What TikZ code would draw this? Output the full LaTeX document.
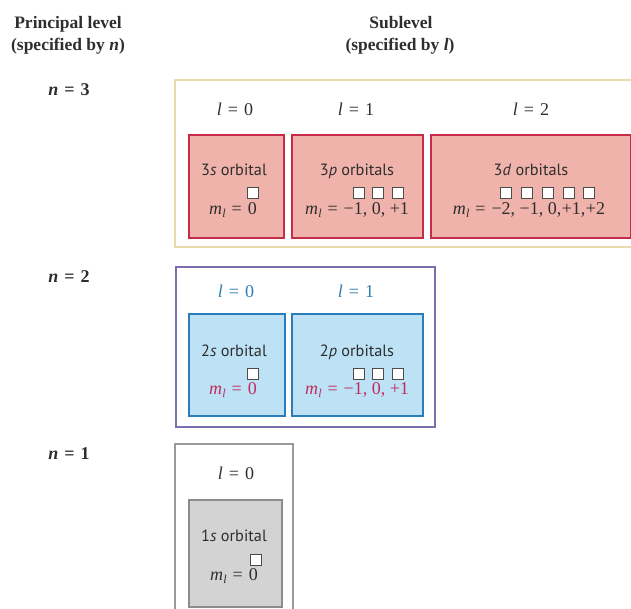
\documentclass[tikz,border=0pt]{standalone}
\usepackage{fontspec}
\setmainfont{Liberation Serif}
\newfontfamily\orbfont{PT Sans}

\definecolor{tanline}{HTML}{E9DBAE}
\definecolor{purpline}{HTML}{7E6EAC}
\definecolor{grayline}{HTML}{9A9A9A}
\definecolor{redfill}{HTML}{F0B3AB}
\definecolor{redline}{HTML}{C62B47}
\definecolor{bluefill}{HTML}{BEE2F5}
\definecolor{blueline}{HTML}{2A7DB8}
\definecolor{grayfill}{HTML}{D3D3D3}
\definecolor{graycell}{HTML}{8C8C8C}
\definecolor{inktext}{HTML}{2E2E2E}
\definecolor{bluetext}{HTML}{2B7DB3}
\definecolor{mltext}{HTML}{C02B60}

% quantum-number text pieces
\newcommand{\qsp}{\hspace{0.33em}}
\newcommand{\mlsym}{\textit{m}\kern0.3pt\raisebox{-0.4ex}{\fontsize{12}{12}\selectfont\textit{l}}}
\newcommand{\lval}[1]{\textit{l}\qsp=\qsp#1}
\newcommand{\mlval}[1]{\mlsym\qsp=\qsp#1}

\tikzset{
  outerbox/.style={draw, line width=1.6pt, fill=none},
  cellbox/.style={draw, line width=1.6pt, anchor=north west, inner sep=0pt},
  redcell/.style={cellbox, fill=redfill, draw=redline},
  bluecell/.style={cellbox, fill=bluefill, draw=blueline},
  graycellbox/.style={cellbox, fill=grayfill, draw=graycell},
  sq/.style={draw=black!70, fill=white, line width=0.8pt, minimum size=11pt, inner sep=0pt},
  head/.style={font=\fontsize{17.5}{22}\selectfont\bfseries, text=inktext, anchor=base, inner sep=0pt},
  nlab/.style={font=\fontsize{18}{20}\selectfont\bfseries, text=inktext, anchor=base, inner sep=0pt},
  llab/.style={font=\fontsize{18}{20}\selectfont, text=inktext, anchor=base, inner sep=0pt},
  orb/.style={font=\orbfont\fontsize{16.3}{18}\selectfont, text=inktext, anchor=base, inner sep=0pt},
  mlab/.style={font=\fontsize{18}{20}\selectfont, text=inktext, anchor=base, inner sep=0pt},
}

\begin{document}
\begin{tikzpicture}[x=1pt, y=-1pt]
\useasboundingbox (0,0) rectangle (631,608);
\clip (0,0) rectangle (631,608);

% column headings
\node[head] (hprin) at (68,28) {Principal level};
\node[head] (hprin2) at (68,50) {(specified by \textit{n})};
\node[head] (hsub) at (401,28) {Sublevel};
\node[head] (hsub2) at (400,50) {(specified by \textit{l})};

% principal quantum number labels
\node[nlab] (n3) at (69,95) {\textit{n}\qsp=\qsp3};
\node[nlab] (n2) at (69,282) {\textit{n}\qsp=\qsp2};
\node[nlab] (n1) at (69,459) {\textit{n}\qsp=\qsp1};

% ---------- n = 3 ----------
\draw[outerbox, draw=tanline] (175,80) rectangle (660,247);
\node[llab] (l30) at (235,115) {\lval{0}};
\node[llab] (l31) at (356,115) {\lval{1}};
\node[llab] (l32) at (531,115) {\lval{2}};

\node[redcell, minimum width=95pt, minimum height=103pt] (c3s) at (188,134) {};
\node[redcell, minimum width=131pt, minimum height=103pt] (c3p) at (291,134) {};
\node[redcell, minimum width=200pt, minimum height=103pt] (c3d) at (430,134) {};

\node[orb] (t3s) at (234,175) {3\textit{s} orbital};
\node[orb] (t3p) at (357,175) {3\textit{p} orbitals};
\node[orb] (t3d) at (531,175) {3\textit{d} orbitals};

\node[sq] (q3s) at (253,192.5) {};
\node[sq] (q3pa) at (358.5,192.5) {};
\node[sq] (q3pb) at (378,192.5) {};
\node[sq] (q3pc) at (397.5,192.5) {};
\node[sq] (q3da) at (506,192.5) {};
\node[sq] (q3db) at (526.5,192.5) {};
\node[sq] (q3dc) at (547.5,192.5) {};
\node[sq] (q3dd) at (569,192.5) {};
\node[sq] (q3de) at (589,192.5) {};

\node[mlab] (m3s) at (233,214) {\mlval{0}};
\node[mlab] (m3p) at (357,214) {\mlval{−1, 0, +1}};
\node[mlab] (m3d) at (529,214) {\mlval{−2, −1, 0,\kern0.5pt+1,\kern0.5pt+2}};

% ---------- n = 2 ----------
\draw[outerbox, draw=purpline] (176,267) rectangle (435,427);
\node[llab, text=bluetext] (l20) at (236,297) {\lval{0}};
\node[llab, text=bluetext] (l21) at (356,297) {\lval{1}};

\node[bluecell, minimum width=96pt, minimum height=102pt] (c2s) at (188,313) {};
\node[bluecell, minimum width=131pt, minimum height=102pt] (c2p) at (291,313) {};

\node[orb] (t2s) at (234,356) {2\textit{s} orbital};
\node[orb] (t2p) at (357,356) {2\textit{p} orbitals};

\node[sq] (q2s) at (253,373.5) {};
\node[sq] (q2pa) at (358.5,373.5) {};
\node[sq] (q2pb) at (378,373.5) {};
\node[sq] (q2pc) at (398,373.5) {};

\node[mlab, text=mltext] (m2s) at (233,394) {\mlval{0}};
\node[mlab, text=mltext] (m2p) at (357,394) {\mlval{−1, 0, +1}};

% ---------- n = 1 ----------
\draw[outerbox, draw=grayline] (175,620) -- (175,444) -- (293,444) -- (293,620);
\node[llab] (l10) at (236,479) {\lval{0}};

\node[graycellbox, minimum width=93pt, minimum height=107pt] (c1s) at (188,499) {};
\node[orb] (t1s) at (234,541) {1\textit{s} orbital};
\node[sq] (q1s) at (256,560) {};
\node[mlab] (m1s) at (234,580) {\mlval{0}};
\end{tikzpicture}
\end{document}
